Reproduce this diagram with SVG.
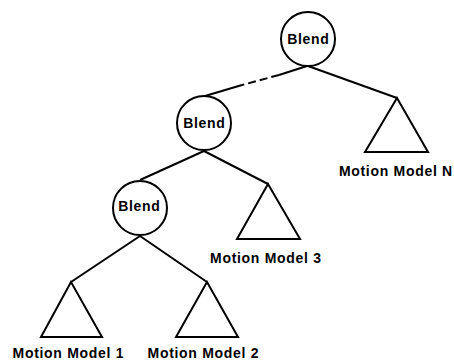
<svg xmlns="http://www.w3.org/2000/svg" width="454" height="360" viewBox="0 0 454 360">
<style>
.n{fill:#fff;stroke:#000;stroke-width:2}
.t{font-family:"Liberation Sans",Arial,sans-serif;font-weight:bold;font-size:14px;letter-spacing:0.7px;text-anchor:middle;fill:#000}
.c{stroke:#000;stroke-width:2;fill:none}
</style>
<rect width="454" height="360" fill="#fff"/>
<g id="connectors">
<line class="c" x1="307" y1="66" x2="279" y2="75"/>
<line class="c" x1="279" y1="75" x2="242" y2="85" stroke-dasharray="8,4"/>
<line class="c" x1="242" y1="85" x2="205" y2="96"/>
<line class="c" x1="308" y1="66" x2="397" y2="98"/>
<line class="c" x1="204" y1="151" x2="140" y2="180"/>
<line class="c" x1="204" y1="151" x2="268" y2="184"/>
<line class="c" x1="140" y1="236" x2="71" y2="282"/>
<line class="c" x1="140" y1="236" x2="207" y2="282"/>
</g>
<g id="blend1"><circle class="n" cx="308" cy="39" r="27"/><text class="t" x="308.4" y="44">Blend</text></g>
<g id="blend2"><circle class="n" cx="204" cy="123" r="27"/><text class="t" x="204.4" y="128">Blend</text></g>
<g id="blend3"><circle class="n" cx="140" cy="208" r="27"/><text class="t" x="139.4" y="211">Blend</text></g>
<g id="modelN"><polygon class="n" points="397,98 365,152 428,152"/><text class="t" x="395.9" y="176">Motion Model N</text></g>
<g id="model3"><polygon class="n" points="268,184 237,239 300,239"/><text class="t" x="265.9" y="263">Motion Model 3</text></g>
<g id="model1"><polygon class="n" points="71,282 41,337 102,337"/><text class="t" x="68.4" y="358">Motion Model 1</text></g>
<g id="model2"><polygon class="n" points="207,282 176,337 238,337"/><text class="t" x="203.4" y="358">Motion Model 2</text></g>
</svg>
